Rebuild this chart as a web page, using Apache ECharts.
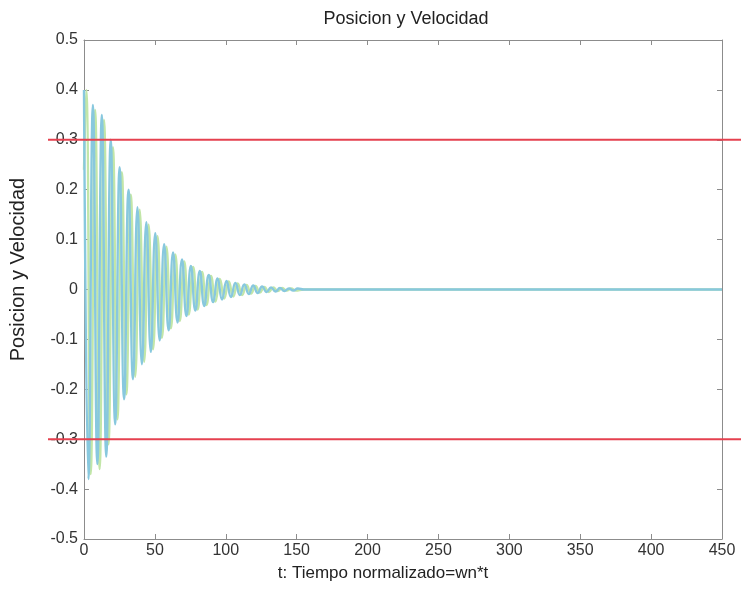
<!DOCTYPE html>
<html>
<head>
<meta charset="utf-8">
<script src="https://cdn.jsdelivr.net/npm/echarts@6.0.0/dist/echarts.min.js"></script>
<style>
  html, body { margin: 0; padding: 0; background: #ffffff; }
  #grafico { width: 741px; height: 591px; }
</style>
</head>
<body>
<div id="grafico"></div>
<script>
// Posicion y velocidad de un sistema amortiguado, con limites de +-0.3.
// Valores: extremos de cada semiciclo hasta t~150, luego plano.

const tiempoPosicion = [
  0, 1.57, 4.71, 7.85, 11.0, 14.14, 17.28, 20.42, 23.56, 26.7, 29.85,
  32.99, 36.13, 39.27, 42.41, 45.55, 48.69, 51.84, 54.98, 58.12, 61.26,
  64.4, 67.54, 70.69, 73.83, 76.97, 80.11, 83.25, 86.39, 89.54, 92.68,
  95.82, 98.96, 102.1, 105.24, 108.38, 111.53, 114.67, 117.81, 120.95,
  124.09, 127.23, 130.38, 133.52, 136.66, 139.8, 142.94, 146.08, 149.23,
  155, 450,
]
const posicion = [
  0.24, 0.4, -0.37, 0.36, -0.36, 0.34, -0.31, 0.285, -0.26, 0.235, -0.21,
  0.19, -0.175, 0.16, -0.145, 0.13, -0.12, 0.107, -0.097, 0.086, -0.078,
  0.07, -0.063, 0.056, -0.05, 0.045, -0.04, 0.035, -0.031, 0.027, -0.024,
  0.021, -0.018, 0.016, -0.014, 0.012, -0.011, 0.009, -0.008, 0.007,
  -0.006, 0.005, -0.005, 0.004, -0.003, 0.003, -0.002, 0.002, -0.002,
  0, 0,
]

const tiempoVelocidad = [
  0, 3.14, 6.28, 9.42, 12.57, 15.71, 18.85, 21.99, 25.13, 28.27, 31.42,
  34.56, 37.7, 40.84, 43.98, 47.12, 50.27, 53.41, 56.55, 59.69, 62.83,
  65.97, 69.12, 72.26, 75.4, 78.54, 81.68, 84.82, 87.96, 91.11, 94.25,
  97.39, 100.53, 103.67, 106.81, 109.96, 113.1, 116.24, 119.38, 122.52,
  125.66, 128.81, 131.95, 135.09, 138.23, 141.37, 144.51, 147.65, 150.8,
  155, 450,
]
const velocidad = [
  0.4, -0.38, 0.37, -0.35, 0.35, -0.335, 0.3, -0.27, 0.245, -0.22, 0.2,
  -0.18, 0.165, -0.15, 0.135, -0.125, 0.113, -0.102, 0.091, -0.082, 0.074,
  -0.066, 0.06, -0.053, 0.047, -0.042, 0.037, -0.033, 0.029, -0.025, 0.022,
  -0.02, 0.017, -0.015, 0.013, -0.011, 0.01, -0.009, 0.008, -0.007,
  0.006, -0.005, 0.004, -0.004, 0.003, -0.003, 0.002, -0.002, 0.002,
  0, 0,
]

// limites horizontales, dibujados sobre un eje oculto mas ancho que el recuadro
const limites = [0.3, -0.3]
const extremosLimite = [0, 1]

const ticksX = { min: 0, max: 450, interval: 50 }
const ticksY = { min: -0.5, max: 0.5, interval: 0.1 }

const colorVerde = '#c2e6a8'
const colorAzul = '#88c8de'
const colorRojo = '#e5414f'
const colorEje = '#8c8c8c'
const fuente = 'Liberation Sans, Arial, sans-serif'

function unirPuntos(tiempos, valores) {
  return tiempos.map((t, idx) => [t, valores[idx]])
}

function formatearTick(valor) {
  return String(Number(valor.toFixed(1)))
}

const ejeComun = {
  axisLine: { show: true, onZero: false, lineStyle: { color: colorEje, width: 1 } },
  axisTick: { show: true, inside: true, length: 5, lineStyle: { color: colorEje } },
  splitLine: { show: false },
}

const grafico = echarts.init(document.getElementById('grafico'), null, {
  renderer: 'canvas',
})

grafico.setOption({
  animation: false,
  backgroundColor: '#ffffff',
  textStyle: { fontFamily: fuente },
  title: {
    text: 'Posicion y Velocidad',
    left: 401,
    textAlign: 'center',
    top: 5,
    textStyle: { fontFamily: fuente, fontSize: 18, fontWeight: 'normal', color: '#222' },
  },
  grid: [
    { left: 80, right: 19, top: 40, bottom: 52 },
    { left: 48, right: 0, top: 40, bottom: 52 },
  ],
  xAxis: [
    {
      ...ejeComun,
      type: 'value',
      gridIndex: 0,
      position: 'bottom',
      ...ticksX,
      name: 't: Tiempo normalizado=wn*t',
      nameLocation: 'middle',
      nameGap: 26,
      nameTextStyle: {
        fontFamily: fuente,
        fontSize: 17,
        color: '#222',
        padding: [0, 40, 0, 0],
      },
      axisLabel: { fontFamily: fuente, fontSize: 16, color: '#333', margin: 4 },
    },
    {
      ...ejeComun,
      type: 'value',
      gridIndex: 0,
      position: 'top',
      ...ticksX,
      axisLabel: { show: false },
    },
    { type: 'value', gridIndex: 1, min: 0, max: 1, show: false },
  ],
  yAxis: [
    {
      ...ejeComun,
      type: 'value',
      gridIndex: 0,
      position: 'left',
      ...ticksY,
      name: 'Posicion y Velocidad',
      nameLocation: 'middle',
      nameGap: 56,
      nameTextStyle: {
        fontFamily: fuente,
        fontSize: 20,
        color: '#222',
        padding: [0, 0, 0, 40],
      },
      axisLabel: {
        fontFamily: fuente,
        fontSize: 16,
        color: '#333',
        margin: 6,
        formatter: formatearTick,
      },
    },
    {
      ...ejeComun,
      type: 'value',
      gridIndex: 0,
      position: 'right',
      ...ticksY,
      axisLabel: { show: false },
    },
    { type: 'value', gridIndex: 1, min: -0.5, max: 0.5, show: false },
  ],
  series: [
    {
      name: 'Posicion',
      type: 'line',
      xAxisIndex: 0,
      yAxisIndex: 0,
      data: unirPuntos(tiempoPosicion, posicion),
      smooth: true,
      showSymbol: false,
      lineStyle: { color: colorVerde, width: 2.4 },
      z: 2,
    },
    {
      name: 'Velocidad',
      type: 'line',
      xAxisIndex: 0,
      yAxisIndex: 0,
      data: unirPuntos(tiempoVelocidad, velocidad),
      smooth: true,
      showSymbol: false,
      lineStyle: { color: colorAzul, width: 2.4 },
      z: 3,
    },
    ...limites.map((nivel) => ({
      name: `Limite ${nivel}`,
      type: 'line',
      xAxisIndex: 2,
      yAxisIndex: 2,
      data: extremosLimite.map((x) => [x, nivel]),
      showSymbol: false,
      silent: true,
      lineStyle: { color: colorRojo, width: 2 },
      z: 5,
    })),
  ],
})
</script>
</body>
</html>
